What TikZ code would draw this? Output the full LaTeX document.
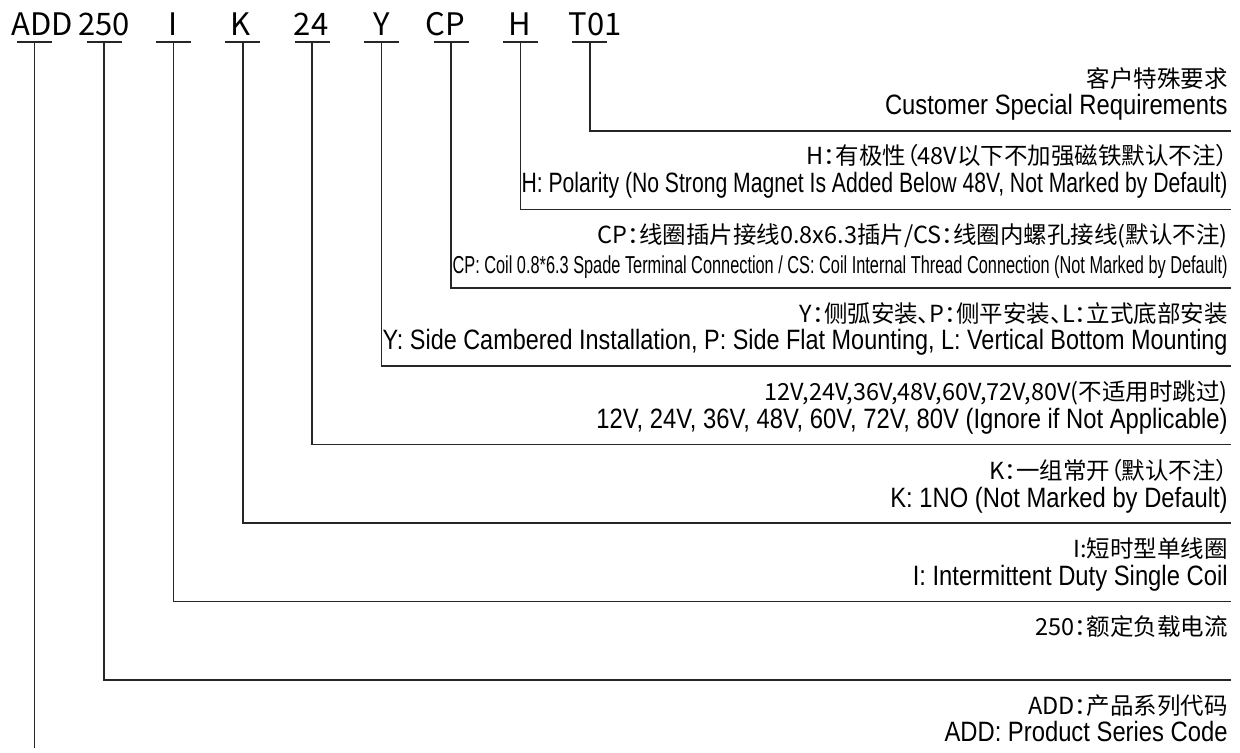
\documentclass[tikz,border=0pt]{standalone}
\usepackage{fontspec}
\usepackage{graphicx}
\newfontfamily\cjk[RawFeature=+palt]{Noto Sans CJK SC}
\newfontfamily\enfont[FakeStretch=0.85]{Liberation Sans}
\newlength\pxu
\setlength\pxu{0.5pt}
\newcommand\fitx[2]{\resizebox{#1\pxu}{\height}{#2}}

\tikzset{
  code/.style={font=\cjk\fontsize{15.5}{17}\selectfont, inner sep=0pt, anchor=base},
  cn/.style={font=\cjk\fontsize{11.75}{13}\selectfont, inner sep=0pt, anchor=base east},
  en/.style={font=\enfont\fontsize{14}{16}\selectfont, inner sep=0pt, anchor=base east},
  lead/.style={draw=black!85, line width=0.75pt},
}

\begin{document}
\begin{tikzpicture}[x=0.5pt,y=-0.5pt]
\useasboundingbox (0,0) rectangle (1240,753);

% the type code
\node[code] (pADD) at (42,36) {ADD};
\node[code] (p250) at (104,36) {250};
\node[code] (pI) at (173,36) {I};
\node[code] (pK) at (241,36) {K};
\node[code] (p24) at (311,36) {24};
\node[code] (pY) at (382,36) {Y};
\node[code] (pCP) at (445,36) {CP};
\node[code] (pH) at (520,36) {H};
\node[code] (pT01) at (595,36) {T01};

% tick points under the code
\coordinate (tADD) at (34.6,42);
\coordinate (t250) at (104,42);
\coordinate (tI) at (173.4,42);
\coordinate (tK) at (242.8,42);
\coordinate (t24) at (312.2,42);
\coordinate (tY) at (381.6,42);
\coordinate (tCP) at (451,42);
\coordinate (tH) at (520.4,42);
\coordinate (tT01) at (589.8,42);

% right ends of the leaders
\coordinate (eT01) at (1231,131);
\coordinate (eH) at (1231,209.4);
\coordinate (eCP) at (1231,287.8);
\coordinate (eY) at (1231,366.2);
\coordinate (e24) at (1231,444.6);
\coordinate (eK) at (1231,523);
\coordinate (eI) at (1231,601.4);
\coordinate (e250) at (1231,679.8);
\coordinate (eADD) at (34.6,748);

% underlines
\draw[lead] (tADD) +(-17.5,0) -- +(17.5,0);
\draw[lead] (t250) +(-17.5,0) -- +(17.5,0);
\draw[lead] (tI) +(-17.5,0) -- +(17.5,0);
\draw[lead] (tK) +(-17.5,0) -- +(17.5,0);
\draw[lead] (t24) +(-17.5,0) -- +(17.5,0);
\draw[lead] (tY) +(-17.5,0) -- +(17.5,0);
\draw[lead] (tCP) +(-17.5,0) -- +(17.5,0);
\draw[lead] (tH) +(-17.5,0) -- +(17.5,0);
\draw[lead] (tT01) +(-17.5,0) -- +(17.5,0);

% leaders
\draw[lead] (tT01) |- (eT01);
\draw[lead] (tH) |- (eH);
\draw[lead] (tCP) |- (eCP);
\draw[lead] (tY) |- (eY);
\draw[lead] (t24) |- (e24);
\draw[lead] (tK) |- (eK);
\draw[lead] (tI) |- (eI);
\draw[lead] (t250) |- (e250);
\draw[lead] (tADD) -- (eADD);

% descriptions
\node[cn] (dT01) at (1228,88) {客户特殊要求};
\node[en] (dT01e) at (1228,115) {Customer Special Requirements};

\node[cn] (dH) at (1228,165) {H：有极性（48V以下不加强磁铁默认不注）};
\node[en] (dHe) at (1228,193) {\fitx{706}{H: Polarity (No Strong Magnet Is Added Below 48V, Not Marked by Default)}};

\node[cn] (dCP) at (1228,244) {CP：线圈插片接线0.8x6.3插片/CS：线圈内螺孔接线(默认不注)};
\node[en, font=\enfont\fontsize{12.25}{14}\selectfont] (dCPe) at (1228,273) {\fitx{775}{CP: Coil 0.8*6.3 Spade Terminal Connection / CS: Coil Internal Thread Connection (Not Marked by Default)}};

\node[cn] (dY) at (1228,322) {Y：侧弧安装、P：侧平安装、L：立式底部安装};
\node[en] (dYe) at (1228,350) {\fitx{845}{Y: Side Cambered Installation, P: Side Flat Mounting, L: Vertical Bottom Mounting}};

\node[cn] (d24) at (1228,400.6) {12V,24V,36V,48V,60V,72V,80V(不适用时跳过)};
\node[en] (d24e) at (1228,428.6) {12V, 24V, 36V, 48V, 60V, 72V, 80V (Ignore if Not Applicable)};

\node[cn] (dK) at (1228,479) {K：一组常开（默认不注）};
\node[en] (dKe) at (1228,507) {K: 1NO (Not Marked by Default)};

\node[cn] (dI) at (1228,557.4) {I:短时型单线圈};
\node[en] (dIe) at (1228,585.4) {I: Intermittent Duty Single Coil};

\node[cn] (d250) at (1228,635.8) {250：额定负载电流};

\node[cn] (dADD) at (1228,714) {ADD：产品系列代码};
\node[en] (dADDe) at (1228,741) {ADD: Product Series Code};
\end{tikzpicture}
\end{document}
